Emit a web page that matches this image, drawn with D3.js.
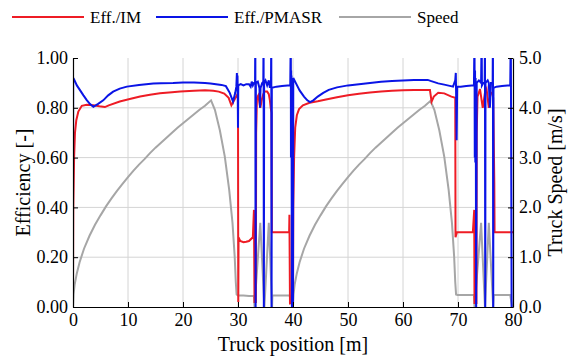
<!DOCTYPE html>
<html lang="en">
<head>
<meta charset="UTF-8">
<title>Efficiency and truck speed</title>
<script src="https://d3js.org/d3.v7.min.js"></script>
<style>
  body { margin: 0; background: #fff; }
  svg text { fill: #000; }
</style>
</head>
<body>
<script>
  // series: [truck position m, value]
  var imData = [
    [0,0.07],[0.05,0.40],[0.2,0.60],[0.36,0.70],[0.6,0.75],[0.97,0.785],[1.6,0.808],[2.5,0.812],
    [3.7,0.81],[4.8,0.806],[5.8,0.803],[6.5,0.81],[8.5,0.825],[10.5,0.836],[12.2,0.845],[14,0.852],
    [15.8,0.858],[18,0.862],[19.5,0.865],[22,0.868],[24,0.87],[25.5,0.868],[26.5,0.865],[27.5,0.857],
    [28.3,0.84],[28.8,0.81],[29.3,0.83],[29.8,0.85],[30.0,0.84],[30.05,0.02],[30.1,0.28],[30.4,0.265],
    [31,0.26],[31.5,0.262],[32,0.265],[32.7,0.28],[32.9,0.39],[33.0,0.02],[33.25,0.02],[33.3,0.70],
    [33.45,0.84],[33.7,0.85],[33.9,0.82],[34.06,0.80],[34.3,0.83],[34.6,0.855],[34.85,0.865],[35.3,0.865],
    [35.6,0.855],[35.8,0.83],[35.95,0.80],[36.1,0.78],[36.15,0.30],[37,0.30],[38,0.30],[39.3,0.30],
    [39.35,0.37],[39.45,0.015],[40.0,0.02],
    [40.05,0.40],[40.2,0.60],[40.4,0.72],[40.7,0.77],[41.1,0.795],[41.8,0.81],[43,0.82],[44.5,0.826],
    [46,0.833],[48,0.842],[50,0.85],[52,0.856],[54,0.861],[56,0.865],[58,0.868],[60,0.87],[62,0.871],
    [64.9,0.871],[65.2,0.825],[65.6,0.845],[66.4,0.86],[67.5,0.858],[68.8,0.845],[69.5,0.84],[69.55,0.28],
    [69.8,0.30],[70.5,0.30],[71.5,0.30],[72.7,0.30],[72.95,0.39],[73.0,0.016],[73.35,0.016],[73.4,0.70],
    [73.55,0.845],[74.0,0.875],[74.5,0.80],[74.9,0.86],[75.2,0.875],[75.6,0.80],[75.9,0.86],[76.2,0.86],
    [76.4,0.84],[76.6,0.50],[76.65,0.30],[77.5,0.30],[78.5,0.30],[80,0.30]
  ];

  var pmData = [
    [0,0.40],[0.03,0.92],[0.18,0.915],[0.7,0.89],[1.27,0.871],[1.9,0.85],[2.5,0.831],[3.1,0.815],
    [3.7,0.804],[4.5,0.815],[5.5,0.83],[6.4,0.85],[7.3,0.865],[8.5,0.877],[9.8,0.885],[12,0.892],
    [14.6,0.898],[16,0.899],[18.2,0.90],[20,0.902],[22,0.902],[24,0.90],[25,0.898],[26,0.895],
    [27,0.892],[27.8,0.887],[28.5,0.86],[29.1,0.825],[29.5,0.86],[29.7,0.885],[29.8,0.94],[29.85,0.87],
    [29.9,0.93],[29.95,0.87],[30.0,0.72],[30.05,0.89],[30.5,0.895],[31,0.89],[31.5,0.895],[32,0.895],
    [32.3,0.885],[32.5,0.905],[32.7,0.89],[32.9,0.90],[33.1,0.90],[33.15,1.1],[33.2,-0.05],[33.25,0.90],
    [33.6,0.905],[33.9,0.88],[34.0,0.80],[34.1,0.88],[34.4,0.90],[34.6,0.905],[34.65,1.1],[34.7,-0.05],
    [34.75,0.90],[35.0,0.91],[35.3,0.89],[35.6,0.91],[35.8,0.88],[36.0,0.90],[36.05,1.1],[36.1,-0.05],
    [36.15,0.88],[37,0.885],[38,0.888],[39,0.89],[39.5,0.89],[39.6,1.1],[39.63,0.60],[39.66,0.95],
    [39.69,0.62],[39.72,0.93],[39.75,0.60],[39.8,0.0],[40.0,0.0],
    [40.02,0.40],[40.05,0.92],[40.5,0.90],[41.2,0.87],[42,0.845],[42.6,0.83],[43.1,0.823],[43.7,0.83],
    [44.5,0.845],[45.5,0.86],[46.5,0.872],[48,0.882],[50,0.89],[52,0.895],[54,0.90],[56,0.905],
    [58,0.908],[60,0.91],[62,0.912],[64.5,0.912],[65,0.908],[66.4,0.898],[67.5,0.893],[68.5,0.888],
    [69.1,0.885],[69.5,0.91],[69.6,0.94],[69.65,0.87],[69.75,0.67],[69.85,0.885],[70.5,0.885],
    [71.5,0.888],[72.5,0.89],[72.9,0.89],[73.0,1.1],[73.05,0.60],[73.1,0.95],[73.15,0.58],[73.2,0.92],
    [73.25,0.60],[73.3,-0.05],[73.4,0.90],[73.8,0.91],[74.2,0.90],[74.3,1.1],[74.35,0.89],[74.6,0.90],
    [74.85,0.90],[74.9,1.1],[74.95,-0.05],[75.0,0.90],[75.4,0.91],[75.6,0.90],[75.8,0.80],[76.0,0.90],
    [76.3,0.90],[76.35,1.1],[76.4,-0.05],[76.45,0.88],[77,0.885],[78,0.888],[79,0.89],[79.5,0.89],
    [79.6,1.1],[79.7,0.42],[79.75,-0.05]
  ];

  var speedData = [
    [0,0],[0.1,0.26],[0.3,0.45],[0.7,0.68],[1.2,0.9],[2,1.17],[3,1.43],[4,1.65],[5,1.84],[6,2.02],
    [7,2.18],[8,2.33],[9,2.47],[10,2.61],[11,2.74],[12,2.86],[13,2.97],[14,3.09],[15,3.2],[16,3.3],
    [17,3.4],[18,3.5],[19,3.6],[20,3.69],[21,3.78],[22,3.87],[23,3.96],[24,4.04],[25.1,4.15],
    [25.8,3.96],[26.7,3.55],[27.6,3.02],[28.4,2.35],[29.0,1.69],[29.4,1.01],[29.6,0.5],[29.75,0.25],
    [30,0.23],[31,0.23],[32,0.22],[32.9,0.22],[33.0,0],[34.05,1.69],[34.8,0],[35.6,1.69],[36.2,0],
    [36.25,0.23],[37,0.23],[38,0.23],[39.4,0.23],[39.6,0.1],[39.9,0],
    [40,0],[40.1,0.26],[40.3,0.45],[40.7,0.68],[41.2,0.9],[42,1.17],[43,1.43],[44,1.65],[45,1.84],
    [46,2.02],[47,2.18],[48,2.33],[49,2.47],[50,2.61],[51,2.74],[52,2.86],[53,2.97],[54,3.09],[55,3.2],
    [56,3.3],[57,3.4],[58,3.5],[59,3.6],[60,3.69],[61,3.78],[62,3.87],[63,3.96],[64,4.04],[65.0,4.14],
    [65.7,3.96],[66.6,3.55],[67.5,3.02],[68.3,2.35],[68.9,1.69],[69.3,1.01],[69.5,0.5],[69.65,0.25],
    [69.9,0.24],[71,0.24],[72,0.24],[72.9,0.24],[73.0,0],[74.2,1.69],[74.9,0],[75.6,1.69],[76.4,0],
    [76.5,0.24],[77.5,0.24],[78.5,0.24],[79.5,0.24],[79.7,0.1],[79.85,0]
  ];

  var xTicks = [0, 10, 20, 30, 40, 50, 60, 70, 80];
  var effTicks = [0, 0.2, 0.4, 0.6, 0.8, 1.0];
  var speedTicks = [0, 1, 2, 3, 4, 5];

  var legendItems = [
    { name: "Eff./IM", color: "#ee1c25" },
    { name: "Eff./PMASR", color: "#0a14e6" },
    { name: "Speed", color: "#a6a6a6" }
  ];

  var serif = '"Liberation Serif", "Times New Roman", Tinos, "DejaVu Serif", serif';
  var width = 574, height = 358;
  var margin = { top: 58, right: 61, bottom: 51, left: 73 };
  var plotW = width - margin.left - margin.right,
      plotH = height - margin.top - margin.bottom;

  var x = d3.scaleLinear().domain([0, 80]).range([0, plotW]);
  var yEff = d3.scaleLinear().domain([0, 1]).range([plotH, 0]);
  var ySpeed = d3.scaleLinear().domain([0, 5]).range([plotH, 0]);

  var svg = d3.select("body").append("svg")
    .attr("width", width)
    .attr("height", height)
    .attr("font-family", serif);

  svg.append("rect").attr("width", width).attr("height", height).attr("fill", "#fff");

  svg.append("clipPath").attr("id", "plotClip")
    .append("rect").attr("width", plotW).attr("height", plotH);

  var g = svg.append("g").attr("transform", "translate(" + margin.left + "," + margin.top + ")");

  // grid
  g.append("g").selectAll("line").data(xTicks.slice(1, -1)).enter().append("line")
    .attr("x1", function (d) { return x(d); }).attr("x2", function (d) { return x(d); })
    .attr("y1", 0).attr("y2", plotH)
    .attr("stroke", "#d4d4d4").attr("stroke-width", 1);
  g.append("g").selectAll("line").data(effTicks.slice(1, -1)).enter().append("line")
    .attr("y1", function (d) { return yEff(d); }).attr("y2", function (d) { return yEff(d); })
    .attr("x1", 0).attr("x2", plotW)
    .attr("stroke", "#d4d4d4").attr("stroke-width", 1);

  var lines = g.append("g").attr("clip-path", "url(#plotClip)");

  var speedLine = d3.line().x(function (d) { return x(d[0]); }).y(function (d) { return ySpeed(d[1]); });
  var effLine = d3.line().x(function (d) { return x(d[0]); }).y(function (d) { return yEff(d[1]); });

  lines.append("path").datum(speedData).attr("d", speedLine)
    .attr("fill", "none").attr("stroke", legendItems[2].color).attr("stroke-width", 2);
  lines.append("path").datum(imData).attr("d", effLine)
    .attr("fill", "none").attr("stroke", legendItems[0].color).attr("stroke-width", 2);
  lines.append("path").datum(pmData).attr("d", effLine)
    .attr("fill", "none").attr("stroke", legendItems[1].color).attr("stroke-width", 2);

  // axes, ticks pointing inward
  var xAxis = g.append("g").attr("transform", "translate(0," + plotH + ")")
    .call(d3.axisBottom(x).tickValues(xTicks).tickSize(-5).tickSizeOuter(0).tickPadding(6));
  var leftAxis = g.append("g")
    .call(d3.axisLeft(yEff).tickValues(effTicks).tickFormat(d3.format(".2f")).tickSize(-5).tickSizeOuter(0).tickPadding(5));
  var rightAxis = g.append("g").attr("transform", "translate(" + plotW + ",0)")
    .call(d3.axisRight(ySpeed).tickValues(speedTicks).tickFormat(d3.format(".1f")).tickSize(-5).tickSizeOuter(0).tickPadding(6));

  [xAxis, leftAxis, rightAxis].forEach(function (a) {
    a.attr("font-family", serif).attr("font-size", 18);
    a.selectAll("text").attr("fill", "#000");
    a.selectAll("line").attr("stroke", "#000");
    a.select(".domain").attr("stroke", "#000").attr("stroke-width", 1.2);
  });
  xAxis.selectAll("text").attr("dy", "0.72em");
  rightAxis.selectAll("text").attr("dy", "0.3em");

  // axis titles
  svg.append("text")
    .attr("x", margin.left + plotW / 2).attr("y", 351)
    .attr("text-anchor", "middle").attr("font-size", 20)
    .text("Truck position [m]");
  svg.append("text")
    .attr("transform", "translate(30," + (margin.top + plotH / 2) + ") rotate(-90)")
    .attr("text-anchor", "middle").attr("font-size", 20)
    .text("Efficiency [-]");
  svg.append("text")
    .attr("transform", "translate(562," + (margin.top + plotH / 2) + ") rotate(-90)")
    .attr("text-anchor", "middle").attr("font-size", 20)
    .text("Truck Speed [m/s]");

  // legend
  var legendX = [12, 156, 339];
  var legend = svg.append("g");
  legendItems.forEach(function (item, i) {
    legend.append("line")
      .attr("x1", legendX[i]).attr("x2", legendX[i] + 72)
      .attr("y1", 17).attr("y2", 17)
      .attr("stroke", item.color).attr("stroke-width", 2);
    legend.append("text")
      .attr("x", legendX[i] + 78).attr("y", 23)
      .attr("font-size", 17)
      .text(item.name);
  });
</script>
</body>
</html>
